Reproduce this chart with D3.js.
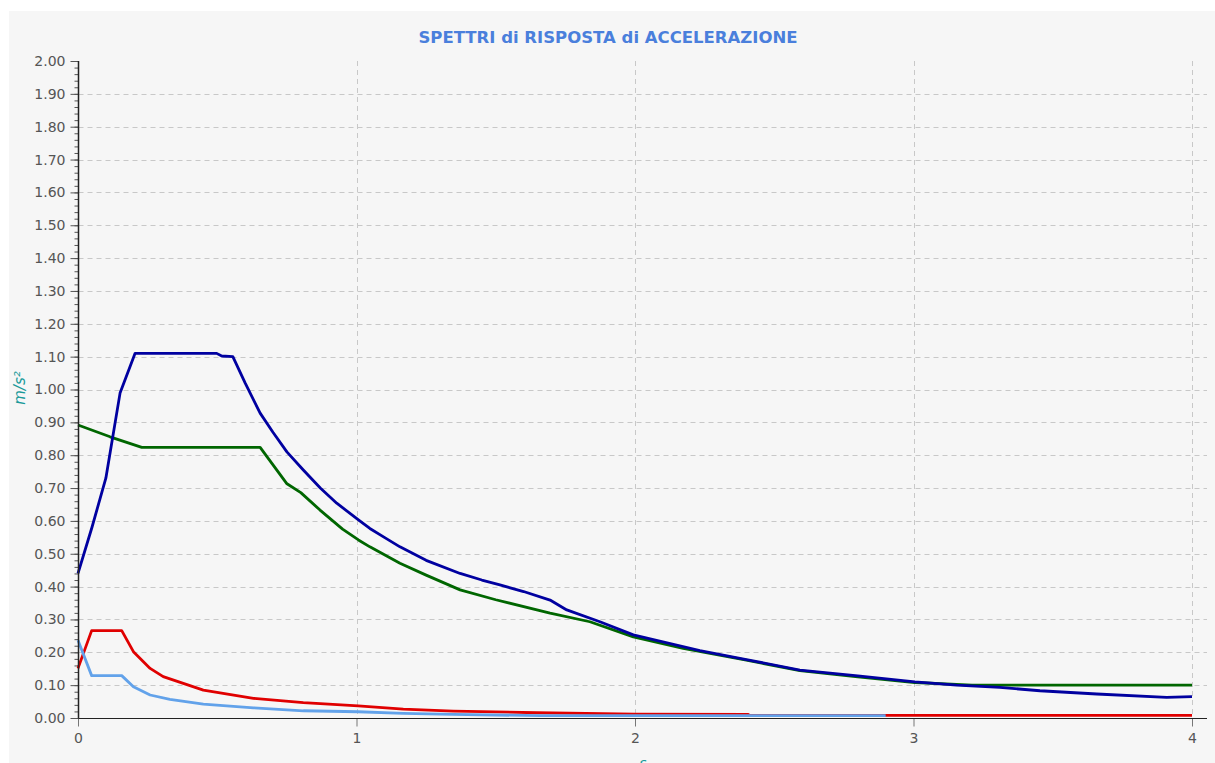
<!DOCTYPE html>
<html>
<head>
<meta charset="utf-8">
<script src="https://cdn.jsdelivr.net/npm/d3@7"></script>
<style>
  body { margin: 0; background: #ffffff; }
  svg { display: block; }
  .tick text { font-family: "DejaVu Sans", Verdana, sans-serif; font-size: 14px; fill: #555; }
</style>
</head>
<body>
<div id="container"></div>
<script>
const width = 1215;
const height = 763;

// DATA (periodo T [s], accelerazione [m/s²])
const xTicks = [0, 1, 2, 3, 4];
const yTicks = d3.range(0, 2.001, 0.1);

const blueT = [0, 0.05, 0.10, 0.151, 0.205, 0.30, 0.40, 0.498, 0.516, 0.556, 0.60, 0.654, 0.70, 0.75, 0.809, 0.87, 0.929, 1.007, 1.048, 1.10, 1.156, 1.25, 1.372, 1.45, 1.515, 1.60, 1.695, 1.755, 1.874, 1.994, 2.10, 2.233, 2.40, 2.592, 2.80, 3.005, 3.155, 3.31, 3.454, 3.658, 3.909, 4.0];
const blueA = [0.44, 0.58, 0.73, 0.989, 1.11, 1.11, 1.11, 1.11, 1.102, 1.10, 1.02, 0.928, 0.87, 0.81, 0.755, 0.70, 0.654, 0.603, 0.577, 0.55, 0.521, 0.48, 0.44, 0.42, 0.405, 0.385, 0.359, 0.329, 0.293, 0.253, 0.232, 0.205, 0.178, 0.146, 0.128, 0.110, 0.100, 0.093, 0.083, 0.073, 0.063, 0.065];

const greenT = [0, 0.115, 0.229, 0.40, 0.55, 0.654, 0.749, 0.80, 0.869, 0.95, 1.007, 1.048, 1.156, 1.25, 1.372, 1.50, 1.695, 1.838, 1.994, 2.173, 2.40, 2.592, 2.80, 3.005, 3.21, 3.50, 4.0];
const greenA = [0.892, 0.856, 0.824, 0.824, 0.824, 0.824, 0.714, 0.686, 0.633, 0.575, 0.542, 0.521, 0.471, 0.435, 0.390, 0.360, 0.319, 0.293, 0.247, 0.212, 0.176, 0.144, 0.125, 0.108, 0.100, 0.100, 0.100];

const redT = [0, 0.049, 0.157, 0.199, 0.259, 0.306, 0.45, 0.63, 0.809, 1.006, 1.168, 1.347, 1.647, 2.0, 2.407, 2.41, 3.0, 4.0];
const redA = [0.151, 0.266, 0.266, 0.202, 0.151, 0.126, 0.085, 0.060, 0.047, 0.037, 0.027, 0.021, 0.016, 0.012, 0.011, 0.008, 0.008, 0.008];

const lightT = [0, 0.049, 0.157, 0.199, 0.259, 0.33, 0.45, 0.63, 0.809, 1.006, 1.168, 1.347, 1.66, 2.2, 2.9];
const lightA = [0.237, 0.129, 0.129, 0.095, 0.070, 0.057, 0.042, 0.031, 0.022, 0.019, 0.014, 0.011, 0.007, 0.007, 0.007];

const seriesList = [
    { id: "rosso", color: "#e00000", t: redT, a: redA },
    { id: "azzurro", color: "#62a2ea", t: lightT, a: lightA },
    { id: "verde", color: "#006600", t: greenT, a: greenA },
    { id: "blu", color: "#0000a0", t: blueT, a: blueA }
];

const svg = d3.select("div#container").append("svg")
    .attr("width", width)
    .attr("height", height);

// pannello grigio
svg.append("rect")
    .attr("x", 9).attr("y", 11)
    .attr("width", width - 9).attr("height", height - 11)
    .attr("fill", "#f6f6f6");

// SCALES
const xScale = d3.scaleLinear().domain([0, 4]).range([78, 1192]);
const yScale = d3.scaleLinear().domain([0, 2]).range([718, 61]);
const xEnd = 1207;
const x0 = Math.round(xScale(0)) + 0.5;
const y0 = Math.round(yScale(0)) + 0.5;

// GRID
svg.append("g")
    .selectAll("line")
    .data(yTicks.filter(v => v > 0.05 && v < 1.95))
    .enter().append("line")
    .attr("x1", x0).attr("x2", xEnd)
    .attr("y1", d => Math.round(yScale(d)) + 0.5)
    .attr("y2", d => Math.round(yScale(d)) + 0.5)
    .attr("stroke", "#c8c8c8")
    .attr("stroke-dasharray", "5,4");

svg.append("g")
    .selectAll("line")
    .data(xTicks.filter(v => v > 0))
    .enter().append("line")
    .attr("x1", d => Math.round(xScale(d)) + 0.5)
    .attr("x2", d => Math.round(xScale(d)) + 0.5)
    .attr("y1", yScale(2)).attr("y2", yScale(0))
    .attr("stroke", "#c8c8c8")
    .attr("stroke-dasharray", "5,4");

// AXES
const yaxis = d3.axisLeft(yScale)
    .tickValues(yTicks)
    .tickFormat(d3.format(".2f"))
    .tickSize(8)
    .tickPadding(5);

const yMinor = d3.axisLeft(yScale)
    .tickValues(d3.range(0, 2.001, 0.02))
    .tickFormat("")
    .tickSize(4);

const xaxis = d3.axisBottom(xScale)
    .tickValues(xTicks)
    .tickFormat(d3.format("d"))
    .tickSize(8)
    .tickPadding(7);

svg.append("g")
    .attr("transform", "translate(" + x0 + ",0)")
    .call(yMinor)
    .call(g => g.select(".domain").remove())
    .call(g => g.selectAll("line").attr("stroke", "#555"));

svg.append("g")
    .attr("transform", "translate(" + x0 + ",0)")
    .call(yaxis)
    .call(g => g.select(".domain").remove())
    .call(g => g.selectAll("line").attr("stroke", "#555"));

svg.append("g")
    .attr("transform", "translate(0," + y0 + ")")
    .call(xaxis)
    .call(g => g.select(".domain").remove())
    .call(g => g.selectAll("line").attr("stroke", "#777"));

// LINES
const line = d3.line()
    .x(d => xScale(d[0]))
    .y(d => yScale(d[1]));

svg.append("g")
    .selectAll("path")
    .data(seriesList)
    .enter().append("path")
    .attr("fill", "none")
    .attr("stroke", d => d.color)
    .attr("stroke-width", 2.8)
    .attr("stroke-linejoin", "round")
    .attr("d", d => line(d.t.map((t, i) => [t, d.a[i]])));

// assi (linee)
svg.append("line")
    .attr("x1", x0).attr("x2", x0)
    .attr("y1", yScale(2)).attr("y2", y0)
    .attr("stroke", "#222").attr("stroke-width", 1.5);

svg.append("line")
    .attr("x1", x0).attr("x2", xEnd)
    .attr("y1", y0).attr("y2", y0)
    .attr("stroke", "#222").attr("stroke-width", 1.2);

// TITLES
svg.append("text")
    .attr("x", 608).attr("y", 43)
    .attr("text-anchor", "middle")
    .style("font-family", "'DejaVu Sans', Verdana, sans-serif")
    .style("font-size", "16.5px")
    .style("font-weight", "bold")
    .style("fill", "#4a7fdc")
    .text("SPETTRI di RISPOSTA di ACCELERAZIONE");

svg.append("text")
    .attr("transform", "translate(25,388) rotate(-90)")
    .attr("text-anchor", "middle")
    .style("font-family", "'DejaVu Sans', Verdana, sans-serif")
    .style("font-size", "15px")
    .style("font-style", "italic")
    .style("fill", "#1a9a9a")
    .text("m/s²");

svg.append("text")
    .attr("x", 643).attr("y", 768)
    .attr("text-anchor", "middle")
    .style("font-family", "'DejaVu Sans', Verdana, sans-serif")
    .style("font-size", "14px")
    .style("font-style", "italic")
    .style("fill", "#1a9a9a")
    .text("s");
</script>
</body>
</html>
